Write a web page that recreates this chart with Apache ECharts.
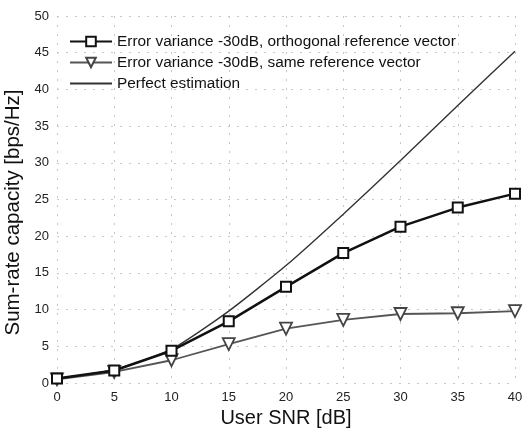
<!DOCTYPE html>
<html>
<head>
<meta charset="utf-8">
<script src="https://cdn.jsdelivr.net/npm/echarts@6/dist/echarts.min.js"></script>
<style>
  html, body { margin: 0; padding: 0; background: #fff; }
  #chart { width: 524px; height: 428px; }
</style>
</head>
<body>
<div id="chart"></div>
<script>
// values
const snr = [0, 5, 10, 15, 20, 25, 30, 35, 40];
const orthogonal = [0.6, 1.7, 4.4, 8.4, 13.1, 17.7, 21.3, 23.9, 25.8];
const sameRef = [0.5, 1.5, 3.1, 5.3, 7.4, 8.6, 9.4, 9.5, 9.8];
const perfect = [0.6, 1.8, 4.6, 9.8, 16.0, 23.0, 30.3, 37.8, 45.2];
const names = [
  'Error variance -30dB, orthogonal reference vector',
  'Error variance -30dB, same reference vector',
  'Perfect estimation'
];

const font = 'Liberation Sans, Arial, sans-serif';
const gridLine = { show: true, lineStyle: { color: '#c8c8c8', type: [2, 7], width: 1 } };

const chart = echarts.init(document.getElementById('chart'), null, { renderer: 'canvas' });
const option = {
  animation: false,
  backgroundColor: '#fff',
  grid: { left: 57, right: 9, top: 16, bottom: 45, outerBoundsMode: 'none' },
  legend: {
    orient: 'vertical',
    left: 64,
    top: 29,
    itemWidth: 42,
    itemHeight: 12,
    itemGap: 6,
    textStyle: { fontFamily: font, fontSize: 15.4, color: '#111' },
    data: [
      { name: names[0] },
      { name: names[1] },
      { name: names[2], itemStyle: { opacity: 0 } }
    ]
  },
  xAxis: {
    type: 'value',
    min: 0, max: 40, interval: 5,
    name: 'User SNR [dB]',
    nameLocation: 'middle',
    nameGap: 25,
    nameTextStyle: { fontFamily: font, fontSize: 20, color: '#111' },
    axisLine: { show: false },
    axisTick: { show: false },
    axisLabel: { fontFamily: font, fontSize: 13, color: '#222', margin: 8 },
    splitLine: gridLine
  },
  yAxis: {
    type: 'value',
    min: 0, max: 50, interval: 5,
    name: 'Sum-rate capacity [bps/Hz]',
    nameLocation: 'middle',
    nameGap: 27,
    nameTextStyle: { fontFamily: font, fontSize: 20.5, color: '#111', padding: [0, 26, 0, 0] },
    axisLine: { show: false },
    axisTick: { show: false },
    axisLabel: { fontFamily: font, fontSize: 13, color: '#222', margin: 8 },
    splitLine: gridLine
  },
  series: [
    {
      name: names[0],
      type: 'line',
      data: snr.map((x, i) => [x, orthogonal[i]]),
      symbol: 'rect',
      symbolSize: 10,
      showAllSymbol: true,
      lineStyle: { color: '#111', width: 2.5 },
      itemStyle: { color: '#fff', borderColor: '#111', borderWidth: 2 },
      z: 3
    },
    {
      name: names[1],
      type: 'line',
      data: snr.map((x, i) => [x, sameRef[i]]),
      symbol: 'triangle',
      symbolRotate: 180,
      symbolSize: 12,
      showAllSymbol: true,
      lineStyle: { color: '#555', width: 1.8 },
      itemStyle: { color: '#fff', borderColor: '#444', borderWidth: 1.8 },
      z: 2
    },
    {
      name: names[2],
      type: 'line',
      data: snr.map((x, i) => [x, perfect[i]]),
      symbol: 'none',
      smooth: 0.2,
      lineStyle: { color: '#333', width: 1.4 },
      itemStyle: { color: '#333' },
      z: 1
    }
  ]
};
chart.setOption(option);
</script>
</body>
</html>
